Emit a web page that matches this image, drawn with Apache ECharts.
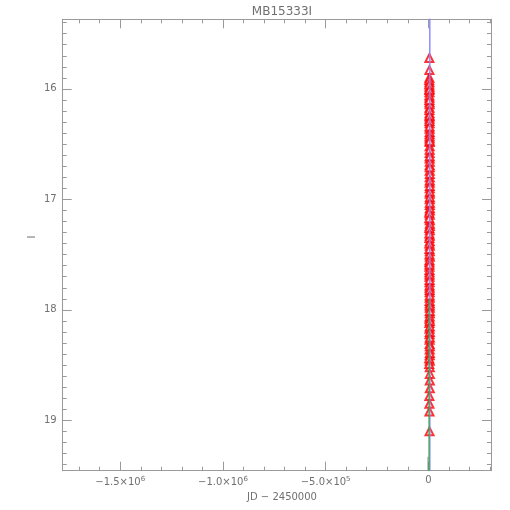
<!DOCTYPE html>
<html><head><meta charset="utf-8">
<script src="https://cdn.jsdelivr.net/npm/echarts@6/dist/echarts.min.js"></script>
<style>html,body{margin:0;padding:0;background:#fff}#c{width:510px;height:510px}</style>
</head><body><div id="c"></div>
<script>
const title = "MB15333I";
const xLabel = "JD \u2212 2450000";
const yLabel = "I";
const xMajorTicks = [-1500000, -1000000, -500000, 0];
const xTickLabels = ["\u22121.5\u00d710|6", "\u22121.0\u00d710|6", "\u22125.0\u00d710|5", "0"];
const yMajorTicks = [16, 17, 18, 19];
// observed data (JD-2450000, I mag)
const obsJD = [5020,5110,5230,5340,5460,5580,5650,5720,5800,5870,5930,6010,6080,6150,6220,6300,6370,6440,6510,6580,
  6650,6720,6790,6860,6930,7000,7060,7120,7160,7190,7200,7210,7220,7240,7270,7300,5150,5390,5610,5840,
  6050,6260,6480,6690,6900,7110,7250,5250,5470,5690,5910,6130,6350,6570,6790,7010,7150,7205,7215,7280,
  5060,5300,5520,5760,5980,6200,6420,6640,6860,7080,7170,7195,7230,7260,5180,5420,5660,5900,6140,6380,
  4200,4400,4600,4800,5000,5200,5400,5600,5800,6000,6200,6400,6600,6800,7000,7180,7210,7225,4300,4500,
  4700,4900,5100,5300,5500,5700,5900,6100,6300,6500,6700,6900,7100,7190,7202,7212,7235,7290,4100,4350];
const obsMag = [15.72,15.83,15.90,15.94,15.98,16.03,16.08,16.12,16.17,16.22,16.27,16.31,16.36,16.41,16.45,16.52,16.58,16.63,16.69,16.74,
  16.80,16.85,16.90,16.95,17.00,17.05,17.10,17.14,17.19,17.24,17.28,17.33,17.38,17.42,17.47,17.52,17.57,17.61,17.66,17.70,
  17.75,17.80,17.84,17.89,17.94,17.98,18.03,18.08,18.12,18.17,18.22,18.27,18.31,18.36,18.41,18.46,18.52,18.58,18.64,18.71,
  18.78,18.85,18.92,19.10,16.00,16.14,16.25,16.39,16.48,16.66,16.77,16.93,17.08,17.22,17.35,17.50,17.64,17.78,17.92,18.06,
  15.92,15.96,16.01,16.06,16.10,16.19,16.24,16.29,16.34,16.43,16.47,16.55,16.61,16.71,16.83,16.88,16.98,17.03,17.12,17.17,
  17.26,17.31,17.40,17.45,17.55,17.59,17.68,17.73,17.82,17.87,17.96,18.01,18.10,18.15,18.20,18.25,18.33,18.39,18.44,18.49];
// model curves (JD-2450000, I mag)
const modelJD = [7150, 7195, 7203, 7211, 7250];
const modelMag = [19.46, 17.50, 15.00, 17.50, 19.46];
const baseJD = [3000, 3000];
const baseMag = [19.46, 17.90];
const greyJD = [-2000, -2000];
const greyMag = [19.46, 19.33];

const XMIN = -1780000, XMAX = 305000, YMIN = 15.37, YMAX = 19.456;
const xMinor = []; for (let v = -1700000; v <= 300000; v += 100000) xMinor.push(v);
const yMinor = []; for (let v = 154; v <= 194; v += 1) yMinor.push(+(v/10).toFixed(1));

const axisCol = '#9a9a9a', textCol = '#707070', FONT = 'DejaVu Sans';
const chart = echarts.init(document.getElementById('c'), null, {renderer: 'canvas'});
function xAx(pos, ticks, len, labels) {
  return {type:'value', position:pos, min:XMIN, max:XMAX, gridIndex:0,
    axisLine:{show:true, onZero:false, lineStyle:{color:axisCol, width:1}},
    axisTick:{show:true, inside:true, length:len, customValues:ticks, lineStyle:{color:axisCol}},
    axisLabel:{show:labels, customValues:xMajorTicks, margin:5, color:textCol, fontFamily:FONT, fontSize:10,
      formatter: v => { const i = xMajorTicks.indexOf(v); if (i<0) return ''; const p = xTickLabels[i].split('|');
        return p.length>1 ? '{a|'+p[0]+'}{s|'+p[1]+'}' : '{a|'+p[0]+'}'; },
      rich:{a:{color:textCol, fontFamily:FONT, fontSize:10}, s:{color:textCol, fontFamily:FONT, fontSize:7, verticalAlign:'top', padding:[0,0,6,0]}}},
    splitLine:{show:false}};
}
function yAx(pos, ticks, len, labels) {
  return {type:'value', position:pos, inverse:true, min:YMIN, max:YMAX, gridIndex:0,
    axisLine:{show:true, onZero:false, lineStyle:{color:axisCol, width:1}},
    axisTick:{show:true, inside:true, length:len, customValues:ticks, lineStyle:{color:axisCol}},
    axisLabel:{show:labels, customValues:yMajorTicks, margin:6, color:textCol, fontFamily:FONT, fontSize:10,
      formatter: v => String(v)},
    splitLine:{show:false}};
}
const xAxes = [xAx('bottom', xMajorTicks, 9, true), xAx('bottom', xMinor, 4, false), xAx('top', xMajorTicks, 9, false), xAx('top', xMinor, 4, false)];
const yAxes = [yAx('left', yMajorTicks, 9, true), yAx('left', yMinor, 4, false), yAx('right', yMajorTicks, 9, false), yAx('right', yMinor, 4, false)];

const zip = (a,b) => a.map((v,i)=>[v,b[i]]);
chart.setOption({
  animation:false, backgroundColor:'#fff',
  grid:{left:62.7, right:19, top:19.3, bottom:39.3},
  title:[{text:title, left:277, top:1, textAlign:'center', textStyle:{color:textCol, fontFamily:FONT, fontSize:12, fontWeight:'normal'}},
         {text:xLabel, left:277, top:487, textAlign:'center', textStyle:{color:textCol, fontFamily:FONT, fontSize:10, fontWeight:'normal'}}],
  graphic:[{type:'text', x:32, y:237, rotation:Math.PI/2, style:{text:yLabel, fill:textCol, font:'10px "DejaVu Sans"', align:'center', verticalAlign:'middle'}}],
  xAxis:xAxes, yAxis:yAxes,
  series:[
    {type:'scatter', xAxisIndex:0, yAxisIndex:0, data:zip(obsJD, obsMag), symbol:'emptyTriangle', symbolSize:8,
      itemStyle:{color:'#ff0000', borderColor:'#ff0000', borderWidth:1}, z:3},
    {type:'line', xAxisIndex:0, yAxisIndex:0, data:zip(modelJD, modelMag), showSymbol:false, clip:true, lineStyle:{color:'#8888ff', width:1}, z:5},
    {type:'line', xAxisIndex:0, yAxisIndex:0, data:zip(greyJD, greyMag), showSymbol:false, clip:true, lineStyle:{color:'#999999', width:1}, z:5},
    {type:'line', xAxisIndex:0, yAxisIndex:0, data:zip(baseJD, baseMag), showSymbol:false, clip:true, lineStyle:{color:'#22aa22', width:1}, z:6}
  ]
});
</script></body></html>
